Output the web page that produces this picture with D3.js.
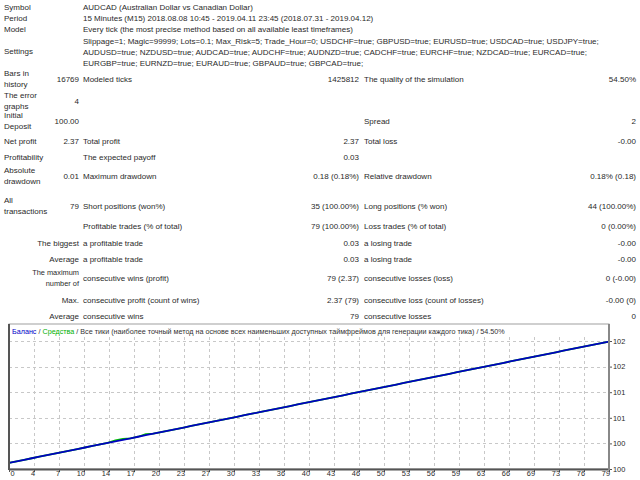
<!DOCTYPE html>
<html><head><meta charset="utf-8">
<script src="https://cdn.jsdelivr.net/npm/d3@7"></script>
<style>
html,body{margin:0;padding:0;background:#fff;}
svg{display:block;font-family:"Liberation Sans",Arial,sans-serif;}
</style></head><body>
<svg id="c" width="640" height="480"></svg>
<script>
// ---------- data ----------
const balance = [100.00,100.03,100.06,100.09,100.12,100.15,100.18,100.21,100.24,100.27,
100.30,100.33,100.36,100.39,100.42,100.45,100.48,100.51,100.54,100.57,
100.60,100.63,100.66,100.69,100.72,100.75,100.78,100.81,100.84,100.87,
100.90,100.93,100.96,100.99,101.02,101.05,101.08,101.11,101.14,101.17,
101.20,101.23,101.26,101.29,101.32,101.35,101.38,101.41,101.44,101.47,
101.50,101.53,101.56,101.59,101.62,101.65,101.68,101.71,101.74,101.77,
101.80,101.83,101.86,101.89,101.92,101.95,101.98,102.01,102.04,102.07,
102.10,102.13,102.16,102.19,102.22,102.25,102.28,102.31,102.34,102.37];
const equity = [100.00,100.03,100.06,100.09,100.12,100.15,100.18,100.21,100.24,100.27,
100.30,100.33,100.36,100.39,100.44,100.47,100.48,100.51,100.56,100.57,
100.60,100.63,100.66,100.69,100.72,100.75,100.78,100.81,100.84,100.87,
100.90,100.93,100.96,100.99,101.02,101.05,101.08,101.11,101.14,101.17,
101.20,101.23,101.26,101.29,101.32,101.35,101.38,101.41,101.44,101.47,
101.50,101.53,101.56,101.59,101.62,101.65,101.68,101.71,101.74,101.77,
101.80,101.83,101.86,101.89,101.92,101.95,101.98,102.01,102.04,102.07,
102.10,102.13,102.16,102.19,102.22,102.25,102.28,102.31,102.34,102.37];
const xTickLabels = ["0","4","7","10","14","17","20","23","27","30","33","36","40","43","46","50","53","56","59","63","66","69","73","76","79"];
const yTickValues = [99.88,100.38,100.88,101.38,101.88,102.38];
const yTickLabels = ["100","100","101","101","102","102"];
const legendParts = [["Баланс","#0000c8"],[" / ","#333"],["Средства","#00b000"],[" / Все тики (наиболее точный метод на основе всех наименьших доступных таймфреймов для генерации каждого тика) / 54.50%","#333"]];

// report table rows: [label lines, value1, label2, value2, label3, value3, labelAlign]
const headerRows = [
  [["Symbol"], "AUDCAD (Australian Dollar vs Canadian Dollar)"],
  [["Period"], "15 Minutes (M15) 2018.08.08 10:45 - 2019.04.11 23:45 (2018.07.31 - 2019.04.12)"],
  [["Model"], "Every tick (the most precise method based on all available least timeframes)"]
];
const settingsLines = [
  "Slippage=1; Magic=99999; Lots=0.1; Max_Risk=5; Trade_Hour=0; USDCHF=true; GBPUSD=true; EURUSD=true; USDCAD=true; USDJPY=true;",
  "AUDUSD=true; NZDUSD=true; AUDCAD=true; AUDCHF=true; AUDNZD=true; CADCHF=true; EURCHF=true; NZDCAD=true; EURCAD=true;",
  "EURGBP=true; EURNZD=true; EURAUD=true; GBPAUD=true; GBPCAD=true;"
];
const statRows = [
  [["Bars in","history"],"16769","Modeled ticks","1425812","The quality of the simulation","54.50%","start"],
  [["The error","graphs"],"4","","","","","start"],
  [["Initial","Deposit"],"100.00","","","Spread","2","start"],
  [["Net profit"],"2.37","Total profit","2.37","Total loss","-0.00","start"],
  [["Profitability"],"","The expected payoff","0.03","","","start"],
  [["Absolute","drawdown"],"0.01","Maximum drawdown","0.18 (0.18%)","Relative drawdown","0.18% (0.18)","start"],
  [["All","transactions"],"79","Short positions (won%)","35 (100.00%)","Long positions (% won)","44 (100.00%)","start"],
  [[],"","Profitable trades (% of total)","79 (100.00%)","Loss trades (% of total)","0 (0.00%)","start"],
  [["The biggest"],"","a profitable trade","0.03","a losing trade","-0.00","end"],
  [["Average"],"","a profitable trade","0.03","a losing trade","-0.00","end"],
  [["The maximum","number of"],"","consecutive wins (profit)","79 (2.37)","consecutive losses (loss)","0 (-0.00)","end"],
  [["Max."],"","consecutive profit (count of wins)","2.37 (79)","consecutive loss (count of losses)","-0.00 (0)","end"],
  [["Average"],"","consecutive wins","79","consecutive losses","0","end"]
];

// ---------- layout ----------
const svg = d3.select("#c");
const fs = 8.0, txt = "#2a2a2a";
const headerY = [7,18,29];
const settingsY = [41,52,63], settingsLabelY = 51;
const statY = [79,101,121,141,157,176,206,226,243,259,278,300,316];
const colL = 4, col1R = 79, col2L = 83, col2R = 359, col3L = 364, col3R = 636;

function t(x,y,s,anchor,size){
  return svg.append("text").attr("x",x).attr("y",y).attr("dy","0.35em")
    .attr("text-anchor",anchor||"start").attr("font-size",size||fs).attr("fill",txt).text(s);
}
headerRows.forEach((r,i)=>{ t(colL,headerY[i],r[0][0]); t(col2L,headerY[i],r[1]); });
t(colL,settingsLabelY,"Settings");
settingsLines.forEach((s,i)=>t(col2L,settingsY[i],s));
statRows.forEach((r,i)=>{
  const y = statY[i];
  const lines = r[0];
  const small = r[6]==="end" && lines.length>1;
  const lh = small?10.5:11;
  lines.forEach((l,j)=>{
    const ly = y + (j-(lines.length-1)/2)*lh;
    if(r[6]==="end") t(col1R,ly,l,"end",small?7.4:fs); else t(colL,ly,l);
  });
  if(r[1]) t(col1R,y,r[1],"end");
  if(r[2]) t(col2L,y,r[2]);
  if(r[3]) t(col2R,y,r[3],"end");
  if(r[4]) t(col3L,y,r[4]);
  if(r[5]) t(col3R,y,r[5],"end");
});

// ---------- chart ----------
const L=9, R=609, T=324, B=469;
const x = d3.scaleLinear().domain([0,79]).range([L,R]);
const y = d3.scaleLinear().domain([99.88,102.38]).range([B,341]);
const xTickValues = xTickLabels.map((_,i)=>i*79/24);

// box
svg.append("rect").attr("x",L).attr("y",T).attr("width",R-L).attr("height",B-T)
  .attr("fill","#fff").attr("stroke","#a0a0a0").attr("stroke-width",1);

// legend
const lg = svg.append("text").attr("x",12).attr("y",331).attr("dy","0.35em").attr("font-size",7.2);
legendParts.forEach(p=>lg.append("tspan").attr("fill",p[1]).text(p[0]));

// grid
const g = svg.append("g").attr("stroke","#c8c8c8").attr("stroke-dasharray","3,3").attr("stroke-width",1);
g.selectAll(".gy").data(yTickValues.filter(v=>y(v)<B-1)).join("line")
  .attr("x1",L).attr("x2",R).attr("y1",d=>Math.round(y(d))+0.5).attr("y2",d=>Math.round(y(d))+0.5);
g.selectAll(".gx").data(xTickValues.slice(1,-1)).join("line")
  .attr("y1",T+13).attr("y2",B).attr("x1",d=>Math.round(x(d))+0.5).attr("x2",d=>Math.round(x(d))+0.5);

// lines
const line = d3.line().x((d,i)=>x(i)).y(d=>y(d));
svg.append("path").datum(equity).attr("d",line).attr("fill","none").attr("stroke","#00c000").attr("stroke-width",1.8);
svg.append("path").datum(balance).attr("d",line).attr("fill","none").attr("stroke","#0000c0").attr("stroke-width",1.8);

// axes
const xa = svg.append("g").attr("transform",`translate(0,${B})`)
  .call(d3.axisBottom(x).tickValues(xTickValues).tickFormat((d,i)=>xTickLabels[i]).tickSize(3).tickSizeOuter(0));
xa.select(".domain").attr("stroke","#555").attr("stroke-width",2);
xa.selectAll(".tick line").attr("stroke","#555");
xa.selectAll(".tick text").attr("font-size",7.4).attr("fill",txt).attr("y",2)
  .attr("text-anchor",(d,i)=>i===0?"start":"end").attr("dx",(d,i)=>i===0?"1":"0.5")
  .attr("font-family","Liberation Sans, Arial, sans-serif");

const ya = svg.append("g").attr("transform",`translate(${R},0)`)
  .call(d3.axisRight(y).tickValues(yTickValues).tickFormat((d,i)=>yTickLabels[i]).tickSize(3).tickSizeOuter(0));
ya.select(".domain").remove();
ya.selectAll(".tick line").attr("stroke","#555");
ya.selectAll(".tick text").attr("font-size",7.4).attr("fill",txt).attr("x",4)
  .attr("font-family","Liberation Sans, Arial, sans-serif");

// frame borders
svg.append("line").attr("x1",L).attr("x2",L).attr("y1",T).attr("y2",B+1).attr("stroke","#555").attr("stroke-width",2);
svg.append("line").attr("x1",R).attr("x2",R).attr("y1",T).attr("y2",B+1).attr("stroke","#888").attr("stroke-width",2);
</script>
</body></html>
